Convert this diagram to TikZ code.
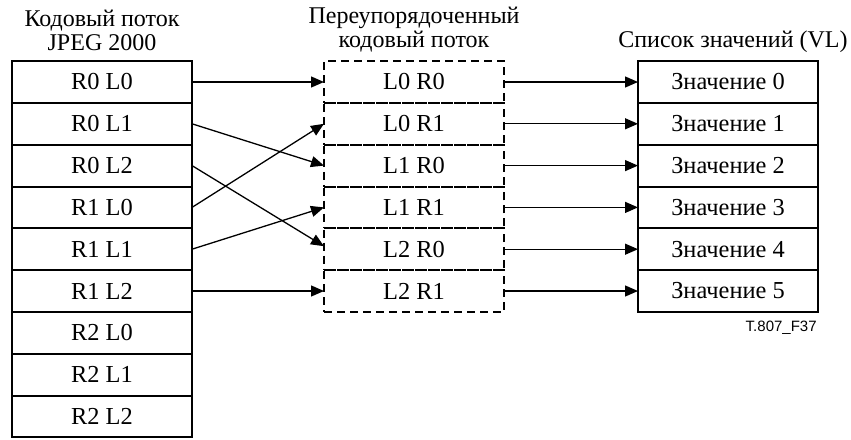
\documentclass[tikz,border=0pt]{standalone}
\usepackage{fontspec}
\setmainfont{Liberation Serif}
\newfontfamily\figlabel{Liberation Sans}
\usetikzlibrary{arrows.meta,positioning}

\begin{document}
\begin{tikzpicture}[
    x=0.5pt, y=-0.5pt,
    node distance=0pt,
    cell/.style={draw, line width=1pt, outer sep=0pt, minimum width=90pt,
                 minimum height=20.9pt, inner sep=0pt,
                 font=\fontsize{12.2}{12}\selectfont},
    dcell/.style={cell, dash pattern=on 4pt off 2.5pt},
    title/.style={align=center, inner sep=0pt, font=\fontsize{12}{11.8}\selectfont},
    arr/.style={-{Triangle[length=6.5pt,width=5.5pt]}, line width=0.65pt}
]
    \useasboundingbox (0,0) rectangle (851,439);

    % JPEG 2000 codestream
    \node[cell] (s0) at (102,82) {R0 L0};
    \node[cell, below=of s0] (s1) {R0 L1};
    \node[cell, below=of s1] (s2) {R0 L2};
    \node[cell, below=of s2] (s3) {R1 L0};
    \node[cell, below=of s3] (s4) {R1 L1};
    \node[cell, below=of s4] (s5) {R1 L2};
    \node[cell, below=of s5] (s6) {R2 L0};
    \node[cell, below=of s6] (s7) {R2 L1};
    \node[cell, below=of s7] (s8) {R2 L2};
    \node[title, above=5pt of s0] {Кодовый поток\\JPEG 2000};

    % reordered codestream
    \node[dcell] (r0) at (414,82) {L0 R0};
    \node[dcell, below=of r0] (r1) {L0 R1};
    \node[dcell, below=of r1] (r2) {L1 R0};
    \node[dcell, below=of r2] (r3) {L1 R1};
    \node[dcell, below=of r3] (r4) {L2 R0};
    \node[dcell, below=of r4] (r5) {L2 R1};
    \node[title, above=4.5pt of r0] {Переупорядоченный\\кодовый поток};

    % value list
    \node[cell] (v0) at (728,82) {Значение 0};
    \node[cell, below=of v0] (v1) {Значение 1};
    \node[cell, below=of v1] (v2) {Значение 2};
    \node[cell, below=of v2] (v3) {Значение 3};
    \node[cell, below=of v3] (v4) {Значение 4};
    \node[cell, below=of v4] (v5) {Значение 5};
    \node[title, above=4pt of v0, xshift=2.5pt] {Список значений (VL)};
    \node[font=\figlabel\fontsize{7.5}{9}\selectfont, inner sep=0pt,
          below left=4.5pt and 0.5pt of v5.south east] (tag) {T.807\_F37};

    \draw[arr] (s0) -- (r0);
    \draw[arr] (s1.east) -- (r2.west);
    \draw[arr] (s2.east) -- ([yshift=1.5pt]r4.west);
    \draw[arr] (s3.east) -- (r1.west);
    \draw[arr] (s4.east) -- (r3.west);
    \draw[arr] (s5) -- (r5);

    \foreach \i in {0,...,5}
        \draw[arr] (r\i) -- (v\i);
\end{tikzpicture}
\end{document}
